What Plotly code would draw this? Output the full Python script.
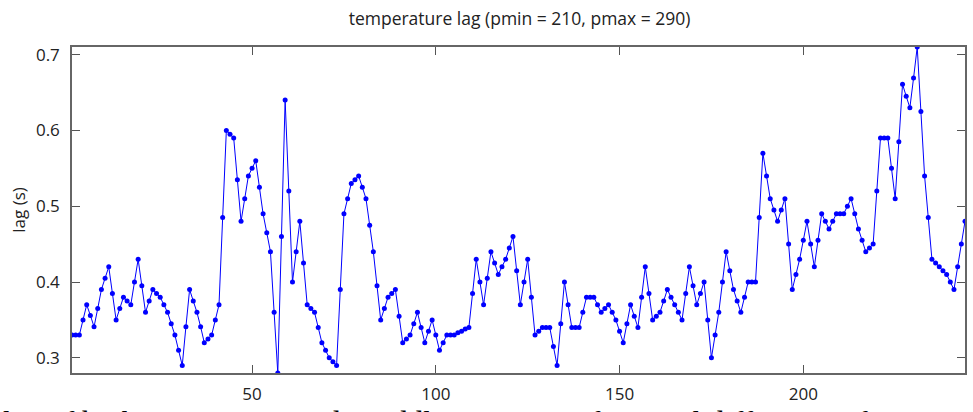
import plotly.graph_objects as go

x_index = list(range(1, 245))
lag = [
    0.330, 0.330, 0.330, 0.350, 0.370, 0.356, 0.341, 0.365, 0.390, 0.405,  # 1-10
    0.420, 0.385, 0.350, 0.365, 0.380, 0.375, 0.370, 0.400, 0.430, 0.395,  # 11-20
    0.360, 0.375, 0.390, 0.385, 0.380, 0.370, 0.360, 0.345, 0.330, 0.310,  # 21-30
    0.290, 0.341, 0.390, 0.375, 0.360, 0.341, 0.320, 0.325, 0.330, 0.350,  # 31-40
    0.370, 0.485, 0.600, 0.595, 0.590, 0.535, 0.480, 0.510, 0.540, 0.550,  # 41-50
    0.560, 0.525, 0.490, 0.465, 0.440, 0.360, 0.280, 0.460, 0.640, 0.520,  # 51-60
    0.400, 0.440, 0.480, 0.425, 0.370, 0.365, 0.360, 0.340, 0.320, 0.310,  # 61-70
    0.300, 0.295, 0.290, 0.390, 0.490, 0.510, 0.530, 0.535, 0.540, 0.525,  # 71-80
    0.510, 0.475, 0.440, 0.395, 0.350, 0.365, 0.380, 0.385, 0.390, 0.355,  # 81-90
    0.320, 0.325, 0.330, 0.345, 0.360, 0.340, 0.320, 0.335, 0.350, 0.330,  # 91-100
    0.310, 0.320, 0.330, 0.330, 0.330, 0.333, 0.335, 0.338, 0.340, 0.385,  # 101-110
    0.430, 0.400, 0.370, 0.405, 0.440, 0.425, 0.410, 0.420, 0.430, 0.445,  # 111-120
    0.460, 0.415, 0.370, 0.400, 0.430, 0.380, 0.330, 0.335, 0.340, 0.340,  # 121-130
    0.340, 0.315, 0.290, 0.345, 0.400, 0.370, 0.340, 0.340, 0.340, 0.360,  # 131-140
    0.380, 0.380, 0.380, 0.370, 0.360, 0.365, 0.370, 0.360, 0.350, 0.335,  # 141-150
    0.320, 0.345, 0.370, 0.355, 0.340, 0.380, 0.420, 0.385, 0.350, 0.355,  # 151-160
    0.360, 0.375, 0.390, 0.380, 0.370, 0.360, 0.350, 0.385, 0.420, 0.395,  # 161-170
    0.370, 0.385, 0.400, 0.350, 0.300, 0.330, 0.360, 0.400, 0.440, 0.415,  # 171-180
    0.390, 0.375, 0.360, 0.380, 0.400, 0.400, 0.400, 0.485, 0.570, 0.540,  # 181-190
    0.510, 0.495, 0.480, 0.495, 0.510, 0.450, 0.390, 0.410, 0.430, 0.455,  # 191-200
    0.480, 0.450, 0.420, 0.455, 0.490, 0.480, 0.470, 0.480, 0.490, 0.490,  # 201-210
    0.490, 0.500, 0.510, 0.490, 0.470, 0.455, 0.440, 0.445, 0.450, 0.520,  # 211-220
    0.590, 0.590, 0.590, 0.550, 0.510, 0.585, 0.661, 0.645, 0.630, 0.669,  # 221-230
    0.710, 0.625, 0.540, 0.485, 0.430, 0.425, 0.420, 0.415, 0.410, 0.400,  # 231-240
    0.390, 0.420, 0.450, 0.480,                                            # 241-244
]

title_text = "temperature lag (pmin = 210, pmax = 290)"
y_label = "lag (s)"
x_ticks = [50, 100, 150, 200]
y_ticks = [0.3, 0.4, 0.5, 0.6, 0.7]
caption = "lag of both points averaged. Middle: variance of vertical difference of temperature"

fig = go.Figure()
fig.add_trace(go.Scatter(
    x=x_index, y=lag, mode="lines+markers",
    line=dict(color="#0000ff", width=1),
    marker=dict(color="#0000ff", size=5),
    showlegend=False,
))

axis_common = dict(
    showgrid=False, zeroline=False,
    showline=True, linecolor="#666666", linewidth=1.5,
    mirror="allticks", ticks="inside", ticklen=8, tickcolor="#555555",
    tickfont=dict(family="Open Sans", size=17, color="#222222"),
)

fig.update_xaxes(range=[1, 244], tickvals=x_ticks, ticklabelstandoff=5, **axis_common)
fig.update_yaxes(range=[0.28, 0.71], tickvals=y_ticks, ticktext=[f"{v:.1f}" for v in y_ticks],
                 ticklabelstandoff=7,
                 title=dict(text=y_label, font=dict(family="Open Sans", size=17, color="#222222"), standoff=6),
                 **axis_common)

fig.update_layout(
    width=973, height=412,
    margin=dict(l=72, r=6, t=47, b=39),
    paper_bgcolor="white", plot_bgcolor="white",
    title=dict(text=title_text, x=0.534, xanchor="center", y=0.955, yanchor="middle",
               font=dict(family="Open Sans", size=17.5, color="#222222")),
    annotations=[dict(
        text=caption, xref="paper", yref="paper", x=-0.079, y=-0.092,
        xanchor="left", yanchor="top", showarrow=False,
        font=dict(family="Liberation Serif", size=31, color="black"),
    )],
)

fig.write_html("out.html")
